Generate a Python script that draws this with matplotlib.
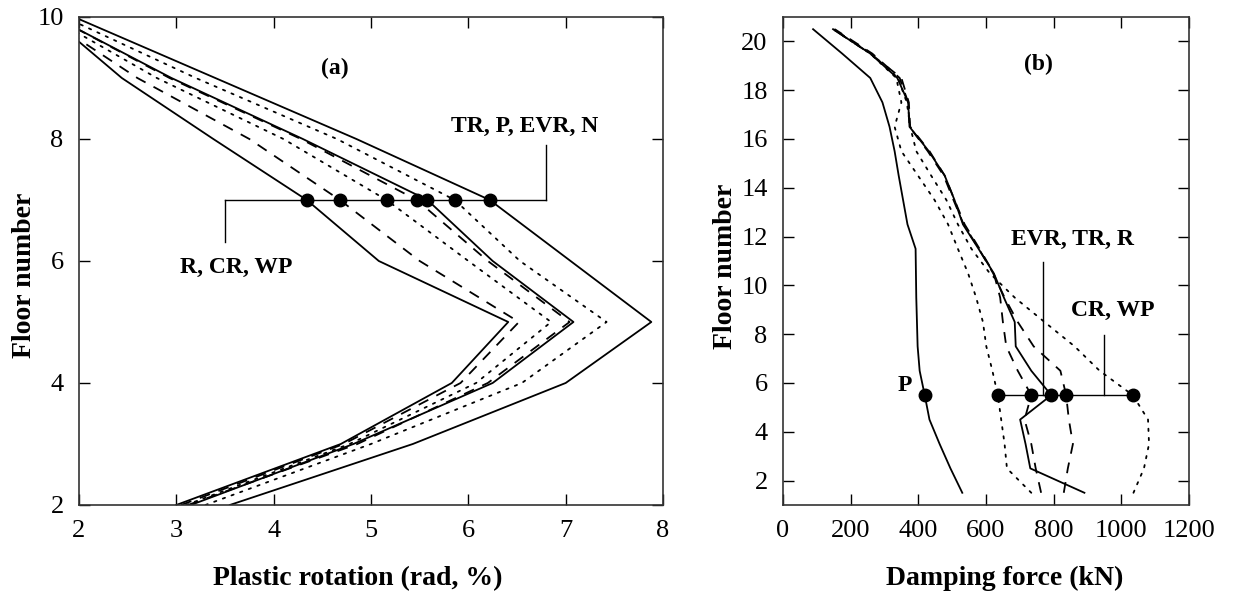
import numpy as np
import matplotlib
matplotlib.use("Agg")
import matplotlib.pyplot as plt

plt.rcParams['font.family'] = ['Liberation Serif', 'DejaVu Serif']

# ---- panel (a): plastic rotation vs floor ----
floors_a = [2, 3, 4, 5, 6, 7, 8, 9, 10]
rot_solid_in = [3.00, 4.69, 5.83, 6.41, 5.08, 4.34, 3.38, 2.44, 1.70]
rot_dash_in = [3.05, 4.72, 5.92, 6.52, 5.50, 4.68, 3.75, 2.60, 1.65]
rot_dot_in = [3.10, 4.78, 6.08, 6.85, 6.00, 5.16, 4.10, 2.80, 1.70]
rot_solid_mid = [3.15, 4.82, 6.25, 7.08, 6.25, 5.58, 4.30, 2.95, 1.75]
rot_dash_mid = [3.12, 4.86, 6.20, 7.04, 6.20, 5.47, 4.28, 2.93, 1.75]
rot_dot_out = [3.30, 5.00, 6.55, 7.42, 6.53, 5.86, 4.65, 3.20, 1.85]
rot_solid_out = [3.55, 5.43, 7.00, 7.88, 7.05, 6.22, 4.85, 3.40, 1.95]
marker_floor_a = 7

# ---- panel (b): damping force vs floor ----
floors_b = [1.5, 2.5, 3.5, 4.5, 5.5, 6.5, 7.5, 8.5, 9.5, 10.5,
            11.5, 12.5, 13.5, 14.5, 15.5, 16.5, 17.5, 18.5, 19.5, 20.5]
force_P = [530, 495, 463, 433, 419, 404, 398, 396, 394, 393,
           392, 368, 355, 342, 330, 315, 294, 258, 175, 89]
force_solid = [891, 731, 717, 701, 793, 734, 688, 685, 653, 623,
               578, 532, 507, 478, 431, 374, 370, 338, 258, 148]
force_dash_a = [763, 747, 734, 714, 734, 694, 660, 650, 642, 623,
                581, 537, 507, 478, 433, 376, 372, 350, 258, 148]
force_dash_b = [830, 842, 857, 845, 837, 820, 741, 694, 655, 621,
                579, 534, 504, 475, 428, 374, 370, 345, 264, 153]
force_dot_l = [734, 662, 655, 645, 635, 619, 601, 591, 571, 547,
               517, 488, 448, 399, 350, 330, 350, 335, 258, 148]
force_dot_r = [1036, 1067, 1082, 1079, 1034, 936, 862, 773, 685, 611,
               557, 517, 483, 438, 394, 376, 366, 340, 261, 150]
marker_floor_b = 5.5

DASH = (6, 5)
DOT = (1.3, 3.8)
LW = 1.3

fig = plt.figure(figsize=(12.34, 5.92), dpi=100)
ax1 = fig.add_axes([0.0640, 0.1470, 0.4733, 0.8243])
ax2 = fig.add_axes([0.6345, 0.1470, 0.3290, 0.8243])


def draw(ax, x, y, style):
    if style == 'solid':
        ax.plot(x, y, color='k', lw=LW)
    elif style == 'dash':
        ax.plot(x, y, color='k', lw=LW, dashes=DASH)
    else:
        ax.plot(x, y, color='k', lw=LW, dashes=DOT, dash_capstyle='round')


lines_a = [(rot_solid_in, 'solid'), (rot_dash_in, 'dash'), (rot_dot_in, 'dot'),
           (rot_solid_mid, 'solid'), (rot_dash_mid, 'dash'),
           (rot_dot_out, 'dot'), (rot_solid_out, 'solid')]
idx_a = floors_a.index(marker_floor_a)
mk_a = []
for vals, st in lines_a:
    draw(ax1, vals, floors_a, st)
    mk_a.append(vals[idx_a])

# bracket + markers at floor 7
ax1.plot([3.5, 6.8], [marker_floor_a, marker_floor_a], color='k', lw=1.0)
ax1.plot([3.5, 3.5], [marker_floor_a, 6.31], color='k', lw=1.0)
ax1.plot([6.8, 6.8], [marker_floor_a, 7.9], color='k', lw=1.0)
ax1.plot(mk_a, [marker_floor_a] * len(mk_a), 'o', color='k', ms=9, zorder=5)

ax1.text(4.63, 9.16, '(a)', ha='center', va='center', fontsize=17, fontweight='bold')
ax1.text(6.58, 8.2, 'TR, P, EVR, N', ha='center', va='center', fontsize=17, fontweight='bold')
ax1.text(3.61, 5.89, 'R, CR, WP', ha='center', va='center', fontsize=17, fontweight='bold')

ax1.set_xlim(2, 8)
ax1.set_ylim(2, 10)
ax1.set_xticks(range(2, 9))
ax1.set_yticks(range(2, 11, 2))
ax1.set_xlabel('Plastic rotation (rad, %)', fontsize=20, fontweight='bold')
ax1.set_ylabel('Floor number', fontsize=20, fontweight='bold')
ax1.xaxis.set_label_coords(0.478, -0.125)
ax1.yaxis.set_label_coords(-0.072, 0.47)

lines_b = [(force_P, 'solid'), (force_solid, 'solid'), (force_dash_a, 'dash'),
           (force_dash_b, 'dash'), (force_dot_l, 'dot'), (force_dot_r, 'dot')]
idx_b = floors_b.index(marker_floor_b)
mk_b = []
for vals, st in lines_b:
    draw(ax2, vals, floors_b, st)
    mk_b.append(vals[idx_b])

right_mk = sorted(mk_b[1:])
ax2.plot([right_mk[0], right_mk[-1]], [marker_floor_b, marker_floor_b], color='k', lw=1.0)
ax2.plot([770, 770], [marker_floor_b, 10.96], color='k', lw=1.0)
ax2.plot([950, 950], [marker_floor_b, 7.95], color='k', lw=1.0)
ax2.plot(mk_b, [marker_floor_b] * len(mk_b), 'o', color='k', ms=9, zorder=5)

ax2.text(754, 19.04, '(b)', ha='center', va='center', fontsize=17, fontweight='bold')
ax2.text(857, 11.9, 'EVR, TR, R', ha='center', va='center', fontsize=17, fontweight='bold')
ax2.text(975, 8.97, 'CR, WP', ha='center', va='center', fontsize=17, fontweight='bold')
ax2.text(360, 5.9, 'P', ha='center', va='center', fontsize=17, fontweight='bold')

ax2.set_xlim(0, 1200)
ax2.set_ylim(1, 21)
ax2.set_xticks(range(0, 1201, 200))
ax2.set_yticks(range(2, 21, 2))
ax2.set_xlabel('Damping force (kN)', fontsize=20, fontweight='bold')
ax2.set_ylabel('Floor number', fontsize=20, fontweight='bold')
ax2.xaxis.set_label_coords(0.547, -0.125)
ax2.yaxis.set_label_coords(-0.111, 0.49)

for ax in (ax1, ax2):
    ax.tick_params(direction='in', top=True, right=True, length=8, width=1.0,
                   labelsize=19, pad=11)
    for sp in ax.spines.values():
        sp.set_linewidth(1.2)
        sp.set_color('#333333')

fig.savefig('out.png', dpi=100)
